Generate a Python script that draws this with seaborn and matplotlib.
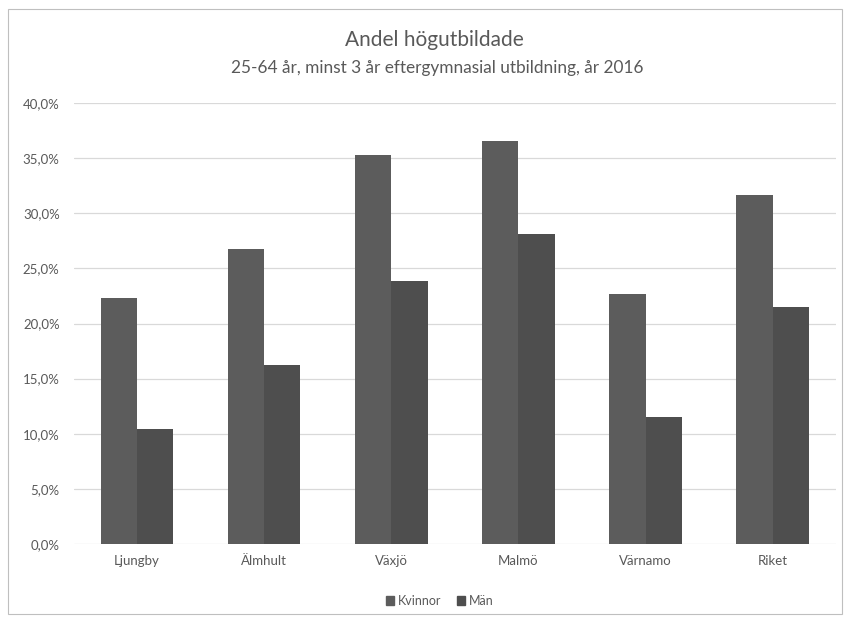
import pandas as pd
import numpy as np
import matplotlib
matplotlib.use("Agg")
import matplotlib.pyplot as plt
import seaborn as sns
from matplotlib.patches import Rectangle
from matplotlib.ticker import FuncFormatter

# Data
kommuner = ["Ljungby", "Älmhult", "Växjö", "Malmö", "Värnamo", "Riket"]
kvinnor = [22.3, 26.8, 35.3, 36.6, 22.7, 31.7]
man = [10.4, 16.2, 23.9, 28.1, 11.5, 21.5]
series = ["Kvinnor", "Män"]
colors = ["#5c5c5c", "#4e4e4e"]

df = pd.DataFrame({
    "kommun": kommuner * 2,
    "kon": [series[0]] * len(kommuner) + [series[1]] * len(kommuner),
    "andel": [v / 100 for v in kvinnor + man],
})

sns.set_theme(style="white")
plt.rcParams["font.family"] = ["Lato", "DejaVu Sans"]
text_col = "#595959"

fig = plt.figure(figsize=(8.49, 6.17), dpi=100)
ax = fig.add_axes([0.0866, 0.1183, 0.8984, 0.7147])

sns.barplot(data=df, x="kommun", y="andel", hue="kon", palette=colors,
            width=0.57, gap=0, ax=ax, legend=False, zorder=3, linewidth=0)

ax.set_ylim(0, 0.4)
ax.set_yticks(np.arange(0, 0.41, 0.05))
ax.yaxis.set_major_formatter(FuncFormatter(lambda v, p: f"{v*100:.1f}%".replace(".", ",")))
ax.grid(axis="y", color="#d9d9d9", linewidth=0.9, zorder=0)
for s in ax.spines.values():
    s.set_visible(False)
ax.set_xlabel("")
ax.set_ylabel("")
ax.tick_params(axis="both", length=0, labelsize=9.5, labelcolor=text_col)
ax.tick_params(axis="x", pad=8)
ax.tick_params(axis="y", pad=10)

fig.text(0.512, 0.935, "Andel högutbildade", ha="center", va="center",
         fontsize=15, color=text_col)
fig.text(0.515, 0.89, "25-64 år, minst 3 år eftergymnasial utbildning, år 2016",
         ha="center", va="center", fontsize=12.4, color=text_col)

handles = [Rectangle((0, 0), 1, 1, color=c) for c in colors]
fig.legend(handles, series, loc="center", bbox_to_anchor=(0.518, 0.026), ncol=2,
           frameon=False, fontsize=9, labelcolor=text_col, handlelength=0.7,
           handleheight=0.7, handletextpad=0.3, columnspacing=1.2)

# chart border
fig.patches.append(Rectangle((0.01, 0.005), 0.982, 0.98, transform=fig.transFigure,
                             fill=False, edgecolor="#bfbfbf", linewidth=0.8))

fig.savefig("out.png", dpi=100)
